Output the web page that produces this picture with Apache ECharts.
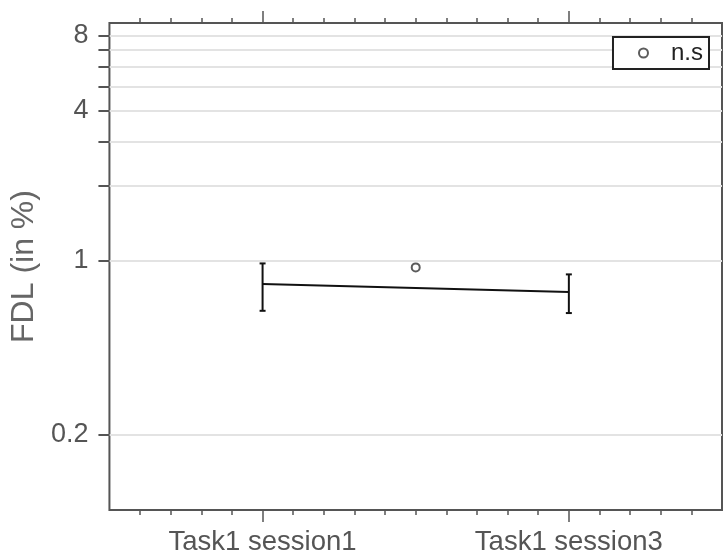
<!DOCTYPE html>
<html><head><meta charset="utf-8">
<script src="https://cdn.jsdelivr.net/npm/echarts@6/dist/echarts.min.js"></script>
<style>html,body{margin:0;padding:0;background:#fff}#c{width:723px;height:557px}</style>
</head><body><div id="c"></div>
<script>
// ---- data ----
const categories = ['Task1 session1', 'Task1 session3'];
const categoryPositions = [1, 3];
const meanValues = [0.807, 0.749];
const upperValues = [0.976, 0.882];
const lowerValues = [0.630, 0.617];
const nsLabel = 'n.s';
const nsPoint = [2, 0.941];
const yTickLabels = [0.2, 1, 4, 8];
const yTickValues = [0.2, 1, 2, 3, 4, 5, 6, 7, 8];
const xMinorTicks = [0.2,0.4,0.6,0.8,1.2,1.4,1.6,1.8,2,2.2,2.4,2.6,2.8,3.2,3.4,3.6,3.8];

const FONT = '"Liberation Sans", Arial, sans-serif';
const AX = '#555';

const meanData = categoryPositions.map((x, i) => [x, meanValues[i]]);
const errData = categoryPositions.map((x, i) => [x, lowerValues[i], upperValues[i]]);

function xAxisDef(pos, ticks, len, labels) {
  return {
    type: 'value', min: 0, max: 4, position: pos, gridIndex: 0,
    axisLine: { show: false },
    axisTick: { show: true, inside: false, length: len, customValues: ticks,
      lineStyle: { color: AX, width: 1.5 } },
    axisLabel: labels ? {
      show: true, customValues: categoryPositions, margin: 18,
      fontFamily: FONT, fontSize: 27.5, color: AX,
      formatter: v => categories[categoryPositions.indexOf(v)] || ''
    } : { show: false },
    splitLine: { show: false }
  };
}

const chart = echarts.init(document.getElementById('c'), null, { renderer: 'canvas' });
chart.setOption({
  animation: false,
  backgroundColor: '#fff',
  grid: { left: 108, right: 1, top: 23, bottom: 47, show: true,
    borderColor: AX, borderWidth: 2, backgroundColor: 'transparent' },
  legend: {
    data: [nsLabel], right: 14, top: 37,
    borderColor: '#222', borderWidth: 2, backgroundColor: '#fff',
    padding: [4, 6, 4, 25], itemWidth: 9, itemHeight: 9,
    textStyle: { fontFamily: FONT, fontSize: 24, color: '#222', padding: [0, 0, 0, 18] }
  },
  xAxis: [
    xAxisDef('bottom', xMinorTicks, 5, false),
    xAxisDef('bottom', categoryPositions, 12, true),
    xAxisDef('top', xMinorTicks, 5, false),
    xAxisDef('top', categoryPositions, 12, false)
  ],
  yAxis: [{
    type: 'log', min: 0.1, max: 9, position: 'left',
    name: 'FDL (in %)', nameLocation: 'middle', nameGap: 64,
    nameTextStyle: { fontFamily: FONT, fontSize: 32, color: '#666' },
    axisLine: { show: false },
    axisTick: { show: true, inside: false, length: 11, customValues: yTickValues,
      lineStyle: { color: AX, width: 2 } },
    axisLabel: { show: true, customValues: yTickLabels, margin: 21,
      fontFamily: FONT, fontSize: 27, color: AX },
    splitLine: { show: true, lineStyle: { color: '#e3e3e3', width: 2 } },
    minorTick: { show: false }, minorSplitLine: { show: false }
  }],
  series: [
    {
      type: 'line', name: 'mean', data: meanData, xAxisIndex: 0, yAxisIndex: 0,
      symbol: 'none', lineStyle: { color: '#111', width: 2 }, z: 3
    },
    {
      type: 'custom', name: 'err', data: errData, xAxisIndex: 0, yAxisIndex: 0, z: 4,
      renderItem: function (params, api) {
        const x = api.value(0);
        const lo = api.coord([x, api.value(1)]);
        const hi = api.coord([x, api.value(2)]);
        const w = 3;
        const st = { stroke: '#111', lineWidth: 2 };
        return { type: 'group', children: [
          { type: 'line', shape: { x1: lo[0], y1: lo[1], x2: hi[0], y2: hi[1] }, style: st },
          { type: 'line', shape: { x1: lo[0] - w, y1: lo[1], x2: lo[0] + w, y2: lo[1] }, style: st },
          { type: 'line', shape: { x1: hi[0] - w, y1: hi[1], x2: hi[0] + w, y2: hi[1] }, style: st }
        ]};
      }
    },
    {
      type: 'scatter', name: nsLabel, data: [nsPoint], xAxisIndex: 0, yAxisIndex: 0,
      symbol: 'emptyCircle', symbolSize: 8, z: 5,
      itemStyle: { color: '#333', borderColor: '#333', borderWidth: 1.5 }
    }
  ]
});
</script>
</body></html>
